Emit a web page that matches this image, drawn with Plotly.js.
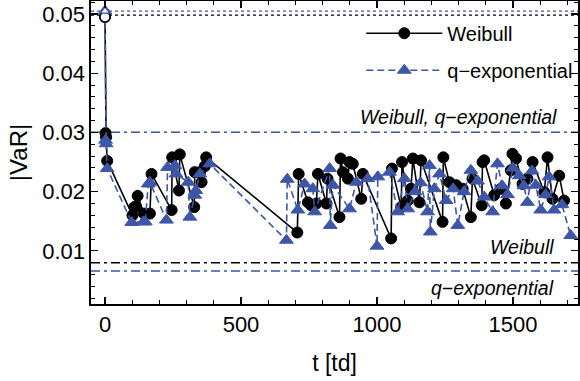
<!DOCTYPE html>
<html>
<head>
<meta charset="utf-8">
<script src="https://cdn.plot.ly/plotly-3.0.1.min.js"></script>
<style>html,body{margin:0;padding:0;background:#fff;}#chart{width:580px;height:381px;}</style>
</head>
<body>
<div id="chart"></div>
<script>
// Weibull series
const tWeibull = [0,2,4,8,101,108,113,120,143,165,171,245,247,272,275,328,330,349,355,367,372,
  707,712,746,758,777,783,814,818,862,866,875,893,899,911,942,948,1052,1055,1089,1092,1113,1125,
  1132,1156,1162,1241,1244,1266,1291,1315,1345,1351,1385,1388,1394,1431,1456,1474,1492,1498,1511,
  1535,1553,1572,1615,1627,1645,1670,1688];
const vWeibull = [0.0495,0.0299,0.0292,0.0252,0.0160,0.0174,0.0175,0.0193,0.0163,0.0163,0.0230,0.0169,0.0258,0.0202,0.0263,0.0174,0.0233,0.0233,0.0216,0.0243,0.0258,
  0.0131,0.0230,0.0182,0.0177,0.0180,0.0230,0.0180,0.0222,0.0157,0.0256,0.0233,0.0222,0.0250,0.0247,0.0188,0.0230,0.0121,0.0239,0.0174,0.0250,0.0185,0.0205,
  0.0256,0.0182,0.0253,0.0149,0.0258,0.0216,0.0211,0.0205,0.0157,0.0222,0.0177,0.0250,0.0253,0.0194,0.0205,0.0180,0.0236,0.0264,0.0256,
  0.0213,0.0222,0.0250,0.0199,0.0258,0.0188,0.0227,0.0185];
// q-exponential series
const tQexp = [0,2,4,8,98,141,148,159,165,226,230,257,261,306,312,330,334,349,385,
  667,670,709,734,764,771,826,828,838,899,924,966,1000,1003,1046,1076,1101,1113,1140,1160,1186,1193,1196,1211,
  1230,1254,1280,1297,1320,1345,1370,1394,1425,1443,1460,1480,1500,1523,1540,1553,1570,1584,1602,1620,1633,1651,1680,1712];
const vQexp = [0.0505,0.0287,0.0281,0.0239,0.0148,0.0149,0.0149,0.0213,0.0216,0.0152,0.0241,0.0244,0.0230,0.0216,0.0157,0.0194,0.0202,0.0230,0.0247,
  0.0118,0.0221,0.0169,0.0213,0.0205,0.0166,0.0239,0.0143,0.0211,0.0171,0.0216,0.0222,0.0108,0.0225,0.0233,0.0166,0.0222,0.0171,0.0200,0.0215,0.0166,0.0244,0.0132,0.0205,
  0.0230,0.0185,0.0205,0.0143,0.0200,0.0236,0.0218,0.0191,0.0166,0.0247,0.0210,0.0195,0.0240,0.0227,0.0210,0.0182,0.0235,0.0211,0.0169,0.0195,0.0225,0.0169,0.0178,0.0126];
// reference levels
const levelDotW = 0.0498, levelDotQ = 0.0505;
const levelHigh = 0.0300;
const levelLowW = 0.0080, levelLowQ = 0.0066;

const BLUE = '#3d56a6';
const FONT = 'Liberation Sans, Arial, sans-serif';

const traces = [
  {x:tWeibull, y:vWeibull, name:'Weibull', legendgroup:'w', type:'scatter', mode:'lines+markers',
   line:{color:'#000000', width:1.6},
   marker:{symbol:'circle', size:11, color:'#000000', line:{color:'#000000', width:1}}},
  {x:tQexp, y:vQexp, name:'q\u2212exponential', legendgroup:'q', type:'scatter', mode:'lines+markers',
   line:{color:BLUE, width:1.6, dash:'7px,4px'},
   marker:{symbol:'triangle-up', size:12, color:BLUE, line:{color:BLUE, width:1}}},
  // first (open) points of each series
  {x:[tWeibull[0]], y:[vWeibull[0]], showlegend:false, type:'scatter', mode:'markers',
   marker:{symbol:'circle', size:10, color:'#ffffff', line:{color:'#000000', width:1.5}}},
  {x:[tQexp[0]], y:[vQexp[0]], showlegend:false, type:'scatter', mode:'markers',
   marker:{symbol:'triangle-up', size:8, color:'#ffffff', line:{color:BLUE, width:1.2}}}
];

function hline(y, color, dash){
  return {type:'line', xref:'paper', x0:0, x1:1, yref:'y', y0:y, y1:y, layer:'below',
          line:{color:color, width:1.3, dash:dash}};
}

const layout = {
  width:580, height:381,
  margin:{l:91, r:2, t:1, b:77},
  paper_bgcolor:'#ffffff', plot_bgcolor:'#ffffff',
  font:{family:FONT, color:'#000000', size:20},
  showlegend:true,
  legend:{x:0.555, y:0.958, xanchor:'left', yanchor:'top', bgcolor:'rgba(0,0,0,0)',
          font:{family:FONT, size:20}, itemwidth:76, tracegroupgap:8, traceorder:'grouped'},
  xaxis:{range:[-51.5,1739], tickvals:[0,500,1000,1500], ticktext:['0','500','1000','1500'],
         ticks:'inside', ticklen:7, tickwidth:1.2, tickcolor:'#000',
         showline:true, linecolor:'#000', linewidth:1.6, mirror:'allticks',
         showgrid:false, zeroline:false, tickfont:{size:22, family:FONT},
         minor:{dtick:100, tick0:0, ticks:'inside', ticklen:4, tickcolor:'#000', tickwidth:1, showgrid:false},
         title:{text:'t [td]', font:{size:23, family:FONT}, standoff:19}},
  yaxis:{range:[0.00103,0.0522], tickvals:[0.01,0.02,0.03,0.04,0.05], ticktext:['0.01','0.02','0.03','0.04','0.05'],
         ticks:'inside', ticklen:7, tickwidth:1.2, tickcolor:'#000',
         showline:true, linecolor:'#000', linewidth:1.6, mirror:'allticks',
         showgrid:false, zeroline:false, tickfont:{size:22, family:FONT},
         minor:{dtick:0.002, tick0:0, ticks:'inside', ticklen:4, tickcolor:'#000', tickwidth:1, showgrid:false},
         title:{text:'|VaR|', font:{size:24, family:FONT}, standoff:8}},
  shapes:[
    hline(levelDotW, '#000000', 'dot'),
    hline(levelDotQ, BLUE, 'dot'),
    hline(levelHigh, '#000000', '9px,4px,3px,4px'),
    hline(levelHigh, BLUE, '9px,4px,3px,4px'),
    hline(levelLowW, '#000000', '9px,4px,3px,4px'),
    hline(levelLowQ, BLUE, '9px,4px,3px,4px')
  ],
  annotations:[
    {text:'<i>Weibull, q\u2212exponential</i>', xref:'paper', x:0.962, xanchor:'right', yref:'y', y:levelHigh, yanchor:'bottom', yshift:2,
     showarrow:false, font:{size:19.5, family:FONT}},
    {text:'<i>Weibull</i>', xref:'paper', x:0.955, xanchor:'right', yref:'y', y:levelLowW, yanchor:'bottom', yshift:3,
     showarrow:false, font:{size:19.5, family:FONT}},
    {text:'<i>q\u2212exponential</i>', xref:'paper', x:0.955, xanchor:'right', yref:'y', y:levelLowQ, yanchor:'top', yshift:-4,
     showarrow:false, font:{size:19.5, family:FONT}}
  ]
};

Plotly.newPlot('chart', traces, layout, {staticPlot:true, displayModeBar:false});
</script>
</body>
</html>
